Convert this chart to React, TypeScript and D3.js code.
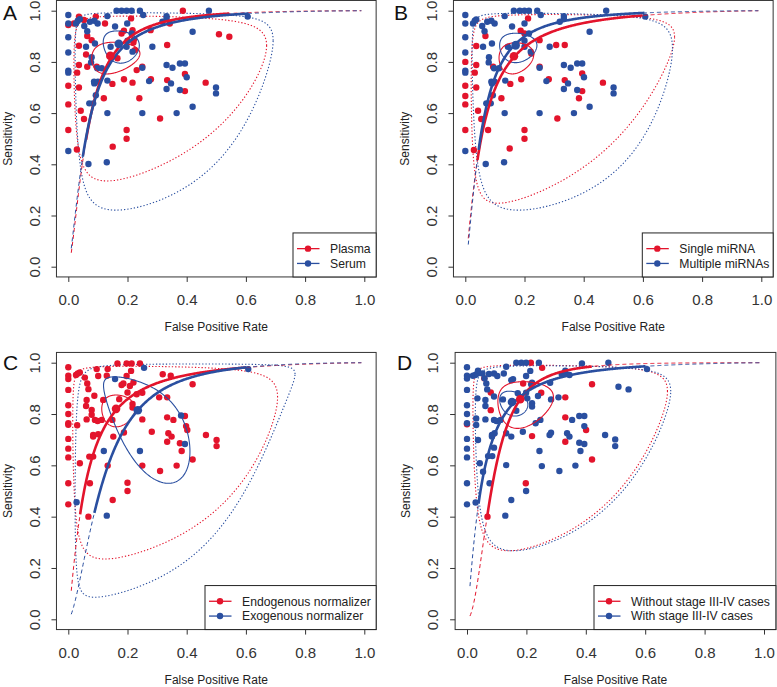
import * as d3 from 'd3'
import { useEffect, useRef } from 'react'

const RED = '#E3142C'
const BLUE = '#2A4FA0'
const FONT = '"Liberation Sans", Arial, sans-serif'
const axisTicks = [0, 0.2, 0.4, 0.6, 0.8, 1.0]

// study points: [false positive rate, sensitivity]
const plasma: [number, number][] = [
  [0, 0.944], [0, 0.707], [0, 0.634], [0, 0.534], [0.019, 0.95], [0.036, 0.977], [0.036, 0.863], [0.036, 0.788],
  [0.03, 0.758], [0.036, 0.7], [0.042, 0.609], [0.029, 0.458], [0.053, 0.577], [0.06, 0.829], [0.064, 0.901],
  [0.064, 0.781], [0.053, 0.964], [0.079, 0.885], [0.093, 0.977], [0.096, 0.781], [0.124, 0.95], [0.12, 0.658],
  [0.149, 0.714], [0.15, 0.469], [0.166, 0.814], [0.18, 0.911], [0.188, 0.732], [0.188, 0.922], [0.197, 0.534],
  [0.197, 0.5], [0.212, 0.97], [0.217, 0.924], [0.217, 0.719], [0.22, 0.876], [0.222, 0.888], [0.225, 0.846],
  [0.231, 0.768], [0.24, 0.658], [0.25, 0.781], [0.279, 0.732], [0.278, 0.924], [0.31, 0.579], [0.334, 0.866],
  [0.334, 0.729], [0.343, 0.95], [0.387, 1.0], [0.394, 0.753], [0.394, 0.686], [0.464, 0.719], [0.509, 0.908],
  [0.544, 0.898],
]
const serum: [number, number][] = [
  [0, 0.983], [0, 0.95], [0, 0.896], [0, 0.837], [0, 0.766], [0, 0.758], [0, 0.452], [0.026, 0.95], [0.032, 0.961],
  [0.039, 0.967], [0.054, 0.94], [0.064, 0.92], [0.06, 0.859], [0.073, 0.957], [0.088, 0.961], [0.099, 0.95],
  [0.079, 0.818], [0.077, 0.798], [0.09, 0.872], [0.098, 0.775], [0.113, 0.775], [0.087, 0.723], [0.088, 0.716],
  [0.1, 0.723], [0.093, 0.67], [0.071, 0.638], [0.084, 0.638], [0.068, 0.401], [0.132, 0.979], [0.132, 0.727],
  [0.132, 0.6], [0.13, 0.408], [0.158, 0.938], [0.143, 0.859], [0.163, 1], [0.18, 1], [0.197, 1], [0.214, 1],
  [0.242, 1], [0.199, 0.95], [0.172, 0.87], [0.197, 0.859], [0.2, 0.883], [0.214, 0.911], [0.217, 0.84],
  [0.253, 0.983], [0.25, 0.777], [0.25, 0.6], [0.284, 0.859], [0.273, 0.725], [0.332, 0.979], [0.332, 0.97],
  [0.318, 0.957], [0.332, 0.788], [0.332, 0.694], [0.347, 0.716], [0.352, 0.777], [0.377, 0.794], [0.394, 0.794],
  [0.377, 0.69], [0.366, 0.6], [0.4, 0.74], [0.42, 0.918], [0.42, 0.625], [0.475, 1], [0.499, 0.7], [0.499, 0.677],
  [0.606, 0.977],
]
const singleMir: [number, number][] = [
  [0, 0.8], [0, 0.707], [0, 0.667], [0, 0.634], [0, 0.534], [0.037, 0.862], [0.037, 0.788], [0.032, 0.758],
  [0.037, 0.7], [0.043, 0.609], [0.029, 0.456], [0.054, 0.577], [0.068, 0.901], [0.077, 0.534], [0.094, 0.781],
  [0.122, 0.658], [0.15, 0.462], [0.152, 0.714], [0.187, 0.922], [0.189, 0.732], [0.2, 0.534], [0.2, 0.5],
  [0.2, 0.911], [0.212, 0.97], [0.223, 0.833], [0.251, 0.885], [0.251, 0.781], [0.282, 0.732], [0.307, 0.866],
  [0.311, 0.579], [0.336, 0.866], [0.336, 0.729], [0.384, 0.658], [0.395, 0.755], [0.395, 0.686], [0.465, 0.719],
]
const multipleMir: [number, number][] = [
  [0, 0.983], [0, 0.95], [0, 0.896], [0, 0.837], [0, 0.766], [0, 0.758], [0, 0.452], [0.026, 0.95], [0.032, 0.961],
  [0.037, 0.966], [0.057, 0.94], [0.065, 0.92], [0.06, 0.859], [0.074, 0.957], [0.088, 0.961], [0.099, 0.95],
  [0.08, 0.818], [0.079, 0.798], [0.09, 0.872], [0.097, 0.775], [0.114, 0.775], [0.088, 0.723], [0.09, 0.716],
  [0.099, 0.723], [0.093, 0.67], [0.071, 0.638], [0.086, 0.638], [0.069, 0.401], [0.133, 0.979], [0.135, 0.727],
  [0.133, 0.6], [0.131, 0.408], [0.158, 0.938], [0.144, 0.859], [0.164, 1], [0.184, 1], [0.2, 1], [0.215, 1],
  [0.243, 1], [0.2, 0.95], [0.172, 0.87], [0.2, 0.859], [0.2, 0.883], [0.215, 0.911], [0.221, 0.84], [0.255, 0.983],
  [0.251, 0.777], [0.251, 0.6], [0.285, 0.859], [0.274, 0.725], [0.333, 0.979], [0.333, 0.97], [0.319, 0.957],
  [0.333, 0.788], [0.333, 0.694], [0.347, 0.716], [0.356, 0.777], [0.378, 0.794], [0.395, 0.794], [0.378, 0.69],
  [0.367, 0.6], [0.401, 0.74], [0.42, 0.918], [0.42, 0.625], [0.476, 1], [0.501, 0.7], [0.501, 0.677], [0.608, 0.977],
]
const endogenous: [number, number][] = [
  [0, 0.982], [0, 0.949], [0, 0.936], [0, 0.894], [0, 0.834], [0, 0.8], [0, 0.764], [0, 0.758], [0, 0.703],
  [0, 0.665], [0, 0.631], [0, 0.53], [0, 0.448], [0.026, 0.952], [0.032, 0.958], [0.039, 0.962], [0.03, 0.756],
  [0.039, 0.608], [0.056, 0.942], [0.064, 0.919], [0.068, 0.897], [0.062, 0.855], [0.06, 0.831], [0.062, 0.779],
  [0.071, 0.634], [0.068, 0.4], [0.073, 0.53], [0.079, 0.816], [0.079, 0.797], [0.088, 0.871], [0.084, 0.718],
  [0.084, 0.712], [0.101, 0.721], [0.09, 0.777], [0.099, 0.773], [0.096, 0.975], [0.101, 0.948], [0.113, 0.777],
  [0.084, 0.634], [0.13, 0.949], [0.133, 0.975], [0.133, 0.599], [0.118, 0.855], [0.149, 0.777], [0.152, 0.712],
  [0.15, 0.465], [0.166, 0.997], [0.172, 0.858], [0.18, 0.913], [0.186, 0.919], [0.188, 0.728], [0.197, 0.948],
  [0.2, 0.884], [0.2, 0.532], [0.2, 0.5], [0.197, 0.997], [0.214, 0.997], [0.242, 0.997], [0.208, 0.909],
  [0.22, 0.923], [0.217, 0.839], [0.217, 0.825], [0.231, 0.877], [0.212, 0.968], [0.25, 0.883], [0.25, 0.779],
  [0.25, 0.599], [0.282, 0.731], [0.31, 0.578], [0.319, 0.955], [0.307, 0.865], [0.334, 0.865], [0.334, 0.787],
  [0.338, 0.725], [0.334, 0.692], [0.346, 0.949], [0.349, 0.712], [0.355, 0.777], [0.383, 0.656], [0.366, 0.599],
  [0.377, 0.686], [0.394, 0.792], [0.398, 0.753], [0.402, 0.738], [0.42, 0.916], [0.42, 0.623], [0.465, 0.718],
  [0.501, 0.699], [0.501, 0.675],
]
const exogenous: [number, number][] = [
  [0.158, 0.936], [0.256, 0.98], [0.608, 0.975], [0.12, 0.656], [0.242, 0.656], [0.381, 0.794], [0.394, 0.683],
  [0.028, 0.456], [0.13, 0.404],
]
const withoutStage: [number, number][] = [
  [0, 0.76], [0.058, 0.939], [0.08, 0.884], [0.08, 0.815], [0.085, 0.716], [0.189, 0.919], [0.215, 1.0],
  [0.253, 0.98], [0.25, 0.883], [0.219, 0.714], [0.198, 0.53], [0.331, 0.865], [0.331, 0.787], [0.331, 0.692],
  [0.401, 0.738], [0.421, 0.916], [0.421, 0.623], [0.069, 0.4],
]
const withStage: [number, number][] = [
  [0, 0.982], [0, 0.949], [0, 0.938], [0, 0.894], [0, 0.834], [0, 0.8], [0, 0.764], [0, 0.703], [0, 0.665],
  [0, 0.631], [0, 0.53], [0, 0.448], [0.02, 0.949], [0.028, 0.952], [0.035, 0.958], [0.037, 0.969], [0.035, 0.861],
  [0.031, 0.783], [0.031, 0.757], [0.037, 0.699], [0.029, 0.455], [0.043, 0.608], [0.054, 0.575], [0.052, 0.958],
  [0.059, 0.939], [0.065, 0.919], [0.068, 0.896], [0.062, 0.855], [0.062, 0.831], [0.062, 0.779], [0.071, 0.636],
  [0.076, 0.53], [0.085, 0.636], [0.084, 0.718], [0.084, 0.712], [0.093, 0.725], [0.091, 0.669], [0.091, 0.777],
  [0.099, 0.773], [0.074, 0.956], [0.091, 0.958], [0.102, 0.948], [0.091, 0.868], [0.113, 0.777], [0.121, 0.857],
  [0.124, 0.958], [0.132, 0.984], [0.132, 0.725], [0.132, 0.601], [0.129, 0.404], [0.149, 0.932], [0.155, 0.936],
  [0.149, 0.712], [0.149, 0.465], [0.166, 1], [0.183, 1], [0.199, 1], [0.242, 1], [0.166, 0.813], [0.171, 0.881],
  [0.188, 0.731], [0.199, 0.948], [0.199, 0.883], [0.199, 0.5], [0.203, 0.861], [0.213, 0.968], [0.216, 0.916],
  [0.219, 0.922], [0.219, 0.842], [0.219, 0.829], [0.231, 0.764], [0.239, 0.87], [0.247, 0.777], [0.252, 0.597],
  [0.244, 0.656], [0.278, 0.718], [0.283, 0.727], [0.283, 0.857], [0.28, 0.922], [0.308, 0.865], [0.311, 0.578],
  [0.319, 0.955], [0.328, 0.958], [0.331, 0.969], [0.337, 0.725], [0.345, 0.712], [0.345, 0.952], [0.354, 0.777],
  [0.365, 0.599], [0.378, 0.792], [0.395, 0.792], [0.378, 0.688], [0.395, 0.683], [0.382, 0.656], [0.395, 0.753],
  [0.387, 0.997], [0.465, 0.718], [0.476, 1.0], [0.499, 0.701], [0.499, 0.675], [0.51, 0.906], [0.544, 0.896],
  [0.606, 0.975],
]

// SROC: logit(sens) = a + b * logit(fpr); thick over [from, to], dashed 0.01..0.99
const srocA = [{ a: 4.22, b: 1.54, from: 0.06, to: 0.545 }, { a: 3.87, b: 1.4, from: 0.049, to: 0.61 }]
const srocB = [{ a: 3.476, b: 1.21, from: 0.041, to: 0.6 }, { a: 4.15, b: 1.416, from: 0.045, to: 0.606 }]
const srocC = [{ a: 3.473, b: 1.208, from: 0.04, to: 0.6 }, { a: 3.345, b: 1.578, from: 0.088, to: 0.603 }]
const srocD = [{ a: 4.836, b: 2.0, from: 0.068, to: 0.42 }, { a: 3.754, b: 1.232, from: 0.039, to: 0.602 }]

// regions: [fpr low, fpr high, sens low, sens high, correlation in logit space]
const confA = [[0.079, 0.242, 0.753, 0.877, 0.15], [0.118, 0.24, 0.795, 0.921, -0.1]]
const confB = [[0.114, 0.231, 0.753, 0.875, 0.1], [0.116, 0.242, 0.797, 0.912, 0]]
const confC = [[0.113, 0.225, 0.75, 0.874, 0], [0.119, 0.411, 0.53, 0.945, -0.62]]
const confD = [[0.104, 0.291, 0.744, 0.926, 0.1], [0.11, 0.205, 0.792, 0.889, -0.2]]
const predA = [[0.019, 0.67, 0.335, 0.979, 0.12], [0.023, 0.692, 0.221, 0.992, 0.08]]
const predB = [[0.02, 0.707, 0.248, 0.985, 0.24], [0.023, 0.7, 0.221, 0.99, 0.03]]
const predC = [[0.015, 0.707, 0.235, 0.986, 0.12], [0.023, 0.766, 0.086, 0.995, 0.42]]
const predD = [[0.02, 0.675, 0.267, 0.99, 0.1], [0.028, 0.686, 0.267, 0.988, 0.14]]

const panels = [
  { letter: 'A', names: ['Plasma', 'Serum'], pts: [plasma, serum], sroc: srocA, conf: confA, pred: predA,
    x0: 68.3, x1: 364.3, y0: 266.7, y1: 10.7, legendLeft: 293, letterX: 3, letterY: 20 },
  { letter: 'B', names: ['Single miRNA', 'Multiple miRNAs'], pts: [singleMir, multipleMir], sroc: srocB, conf: confB, pred: predB,
    x0: 465.3, x1: 761.3, y0: 266.7, y1: 10.7, legendLeft: 642.3, letterX: 394, letterY: 20 },
  { letter: 'C', names: ['Endogenous normalizer', 'Exogenous normalizer'], pts: [endogenous, exogenous], sroc: srocC, conf: confC, pred: predC,
    x0: 68.3, x1: 364.3, y0: 619.3, y1: 362.7, legendLeft: 205, letterX: 3, letterY: 370 },
  { letter: 'D', names: ['Without stage III-IV cases', 'With stage III-IV cases'], pts: [withoutStage, withStage], sroc: srocD, conf: confD, pred: predD,
    x0: 467, x1: 764, y0: 619.3, y1: 362.7, legendLeft: 594, letterX: 397, letterY: 370 },
]

const logit = (p: number) => Math.log(p / (1 - p))
const expit = (v: number) => 1 / (1 + Math.exp(-v))

function regionPath(r: number[]) {
  const [f0, f1, s0, s1, rho] = r
  const mx = (logit(f0) + logit(f1)) / 2, sx = (logit(f1) - logit(f0)) / 2
  const my = (logit(s0) + logit(s1)) / 2, sy = (logit(s1) - logit(s0)) / 2
  const k = Math.sqrt(1 - rho * rho)
  return d3.range(0, 360, 1.5).map(deg => {
    const t = deg * Math.PI / 180
    return [expit(mx + sx * Math.cos(t)), expit(my + sy * (rho * Math.cos(t) + k * Math.sin(t)))] as [number, number]
  })
}
function regionCentre(r: number[]) {
  return [expit((logit(r[0]) + logit(r[1])) / 2), expit((logit(r[2]) + logit(r[3])) / 2)]
}
function srocPts(c: { a: number, b: number }, from: number, to: number) {
  return d3.range(from, to + 1e-9, 0.002).map(f => [f, expit(c.a + c.b * logit(f))] as [number, number])
}

function drawPanel(svg: any, p: any) {
  const x = d3.scaleLinear().domain([0, 1]).range([p.x0, p.x1])
  const y = d3.scaleLinear().domain([0, 1]).range([p.y0, p.y1])
  const left = x(-0.04), right = x(1.04), bottom = y(-0.04), top = y(1.04)
  const colors = [RED, BLUE]
  const line = d3.line<[number, number]>().x(d => x(d[0])).y(d => y(d[1]))
  const g = svg.append('g')

  // prediction regions (dotted)
  p.pred.forEach((r: number[], i: number) => {
    g.append('path').attr('d', line.curve(d3.curveLinearClosed)(regionPath(r)))
      .attr('fill', 'none').attr('stroke', colors[i]).attr('stroke-width', 1.1).attr('stroke-dasharray', '1.3,2')
  })
  line.curve(d3.curveLinear)
  // points
  p.pts.forEach((pts: [number, number][], i: number) => {
    g.append('g').selectAll('circle').data(pts).join('circle')
      .attr('cx', (d: any) => x(d[0])).attr('cy', (d: any) => y(d[1])).attr('r', 3.2).attr('fill', colors[i])
  })
  // confidence regions
  p.conf.forEach((r: number[], i: number) => {
    g.append('path').attr('d', line.curve(d3.curveLinearClosed)(regionPath(r)))
      .attr('fill', 'none').attr('stroke', colors[i]).attr('stroke-width', 1.1)
  })
  line.curve(d3.curveLinear)
  // SROC curves
  p.sroc.forEach((c: any, i: number) => {
    g.append('path').attr('d', line(srocPts(c, 0.01, 0.99)))
      .attr('fill', 'none').attr('stroke', colors[i]).attr('stroke-width', 1).attr('stroke-dasharray', '4,3')
  })
  p.sroc.forEach((c: any, i: number) => {
    g.append('path').attr('d', line(srocPts(c, c.from, c.to)))
      .attr('fill', 'none').attr('stroke', colors[i]).attr('stroke-width', 2.6)
  })
  // summary points
  p.conf.forEach((r: number[], i: number) => {
    const c = regionCentre(r)
    g.append('circle').attr('cx', x(c[0])).attr('cy', y(c[1])).attr('r', 4.3).attr('fill', colors[i])
  })

  // box
  g.append('rect').attr('x', left).attr('y', top).attr('width', right - left).attr('height', bottom - top)
    .attr('fill', 'none').attr('stroke', '#333').attr('stroke-width', 1)

  const xa = g.append('g').attr('transform', `translate(0,${bottom})`)
    .call(d3.axisBottom(x).tickValues(axisTicks).tickFormat(d3.format('.1f')).tickSize(5))
  xa.select('.domain').remove()
  xa.attr('font-size', 15).attr('font-family', FONT).attr('color', '#333')
  xa.selectAll('text').attr('y', 23).attr('dy', '0.35em')

  const ya = g.append('g').attr('transform', `translate(${left},0)`)
    .call(d3.axisLeft(y).tickValues(axisTicks).tickFormat(d3.format('.1f')).tickSize(5))
  ya.select('.domain').remove()
  ya.attr('font-size', 15).attr('font-family', FONT).attr('color', '#333')
  ya.selectAll('text').attr('x', 0).attr('dy', '0.35em').attr('text-anchor', 'middle')
    .attr('transform', 'translate(-22,0) rotate(-90)')

  g.append('text').text('False Positive Rate').attr('x', x(0.5)).attr('y', bottom + 50).attr('dy', '0.35em')
    .attr('text-anchor', 'middle').attr('font-size', 12).attr('font-family', FONT).attr('fill', '#222')
  g.append('text').text('Sensitivity').attr('transform', `translate(${left - 49},${y(0.5)}) rotate(-90)`)
    .attr('dy', '0.35em').attr('text-anchor', 'middle').attr('font-size', 12).attr('font-family', FONT).attr('fill', '#222')
  g.append('text').text(p.letter).attr('x', p.letterX).attr('y', p.letterY)
    .attr('font-size', 21).attr('font-family', FONT).attr('fill', '#111')

  // legend
  const lt = bottom - 44
  g.append('rect').attr('x', p.legendLeft).attr('y', lt).attr('width', right - p.legendLeft).attr('height', bottom - lt)
    .attr('fill', 'white').attr('stroke', '#222').attr('stroke-width', 1)
  p.names.forEach((name: string, i: number) => {
    const ly = lt + 15.7 + i * 14.8
    g.append('line').attr('x1', p.legendLeft + 4).attr('x2', p.legendLeft + 26.5).attr('y1', ly).attr('y2', ly)
      .attr('stroke', colors[i]).attr('stroke-width', 1.3)
    g.append('circle').attr('cx', p.legendLeft + 15).attr('cy', ly).attr('r', 3.2).attr('fill', colors[i])
    g.append('text').text(name).attr('x', p.legendLeft + 37).attr('y', ly).attr('dy', '0.35em')
      .attr('font-size', 12.2).attr('font-family', FONT).attr('fill', '#222')
  })
}

export default function App() {
  const ref = useRef<SVGSVGElement>(null)
  useEffect(() => {
    const svg = d3.select(ref.current)
    svg.selectAll('*').remove()
    panels.forEach(p => drawPanel(svg, p))
  }, [])
  return (
    <svg ref={ref} width={777} height={687}
      style={{ position: 'absolute', left: 0, top: 0, background: 'white' }} />
  )
}
